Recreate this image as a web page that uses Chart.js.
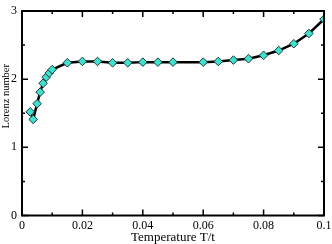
<!DOCTYPE html>
<html>
<head>
<meta charset="utf-8">
<script src="https://cdn.jsdelivr.net/npm/chart.js@4/dist/chart.umd.min.js"></script>
<style>
  html, body { margin: 0; padding: 0; background: #fff; }
  #wrap { width: 332px; height: 244px; }
</style>
</head>
<body>
<div id="wrap"><canvas id="c"></canvas></div>
<script>
// temperature T/t and Lorenz number
const temps = [0.0027, 0.0037, 0.005, 0.006, 0.007, 0.008, 0.009, 0.01, 0.015, 0.02, 0.025,
    0.03, 0.035, 0.04, 0.045, 0.05, 0.06, 0.065, 0.07, 0.075, 0.08, 0.085, 0.09, 0.095, 0.1];
const lorenz = [1.52, 1.41, 1.64, 1.81, 1.94, 2.03, 2.09, 2.14, 2.24, 2.26, 2.26,
    2.24, 2.24, 2.25, 2.25, 2.25, 2.25, 2.26, 2.28, 2.30, 2.35, 2.42, 2.52, 2.67, 2.88];
const xTicks = [0, 0.02, 0.04, 0.06, 0.08, 0.1];
const xMinor = [0.01, 0.03, 0.05, 0.07, 0.09];
const yTicks = [0, 1, 2, 3];
const yMinor = [0.5, 1.5, 2.5];
const yTitle = 'Lorenz number';

const serif = '"Liberation Serif", "DejaVu Serif", serif';

// frame, inward ticks on all four sides, y title (sits a bit above centre)
const framePlugin = {
    id: 'frame',
    afterDraw(chart) {
        const ctx = chart.ctx;
        const a = chart.chartArea;
        const xs = chart.scales.x, ys = chart.scales.y;
        ctx.save();
        ctx.strokeStyle = '#000';
        ctx.lineWidth = 1.5;
        const tick = (vals, len) => {
            vals.forEach(v => {
                const px = xs.getPixelForValue(v);
                ctx.beginPath();
                ctx.moveTo(px, a.bottom); ctx.lineTo(px, a.bottom - len);
                ctx.moveTo(px, a.top); ctx.lineTo(px, a.top + len);
                ctx.stroke();
            });
        };
        const tickY = (vals, len) => {
            vals.forEach(v => {
                const py = ys.getPixelForValue(v);
                ctx.beginPath();
                ctx.moveTo(a.left, py); ctx.lineTo(a.left + len, py);
                ctx.moveTo(a.right, py); ctx.lineTo(a.right - len, py);
                ctx.stroke();
            });
        };
        tick(xTicks, 6); tick(xMinor, 3);
        tickY(yTicks, 6); tickY(yMinor, 3);
        ctx.lineWidth = 2;
        ctx.strokeRect(a.left, a.top, a.right - a.left, a.bottom - a.top);

        ctx.translate(6, ys.getPixelForValue(1.75));
        ctx.rotate(-Math.PI / 2);
        ctx.fillStyle = '#000';
        ctx.font = '10.5px ' + serif;
        ctx.textAlign = 'center';
        ctx.textBaseline = 'middle';
        ctx.fillText(yTitle, 0, 0);
        ctx.restore();
    }
};

new Chart(document.getElementById('c'), {
    type: 'scatter',
    data: {
        datasets: [{
            data: temps.map((t, i) => ({ x: t, y: lorenz[i] })),
            showLine: true,
            borderColor: '#000',
            borderWidth: 2.5,
            pointStyle: 'rectRot',
            pointRadius: 4.3,
            pointBackgroundColor: '#40e0d0',
            pointBorderColor: '#1a3a38',
            pointBorderWidth: 1
        }]
    },
    options: {
        responsive: true,
        maintainAspectRatio: false,
        animation: false,
        layout: { padding: { top: 5, right: 8, left: 6, bottom: 0 } },
        plugins: { legend: { display: false }, tooltip: { enabled: false } },
        scales: {
            x: {
                type: 'linear',
                min: 0, max: 0.1,
                afterBuildTicks: s => { s.ticks = xTicks.map(v => ({ value: v })); },
                // the last label runs off the right edge in the original
                afterFit: s => { s.paddingRight = 0; },
                grid: { display: false, drawTicks: false },
                border: { display: false },
                ticks: {
                    color: '#000',
                    font: { family: serif, size: 12, lineHeight: 1 },
                    padding: 4,
                    maxRotation: 0,
                    callback: v => String(Math.round(v * 100) / 100)
                },
                title: {
                    display: true,
                    text: 'Temperature T/t',
                    color: '#000',
                    font: { family: serif, size: 13, lineHeight: 1 },
                    padding: { top: -4.5, bottom: 0 }
                }
            },
            y: {
                min: 0, max: 3,
                afterBuildTicks: s => { s.ticks = yTicks.map(v => ({ value: v })); },
                grid: { display: false, drawTicks: false },
                border: { display: false },
                ticks: {
                    color: '#000',
                    font: { family: serif, size: 12, lineHeight: 1 },
                    padding: 5
                }
            }
        }
    },
    plugins: [framePlugin]
});
</script>
</body>
</html>
